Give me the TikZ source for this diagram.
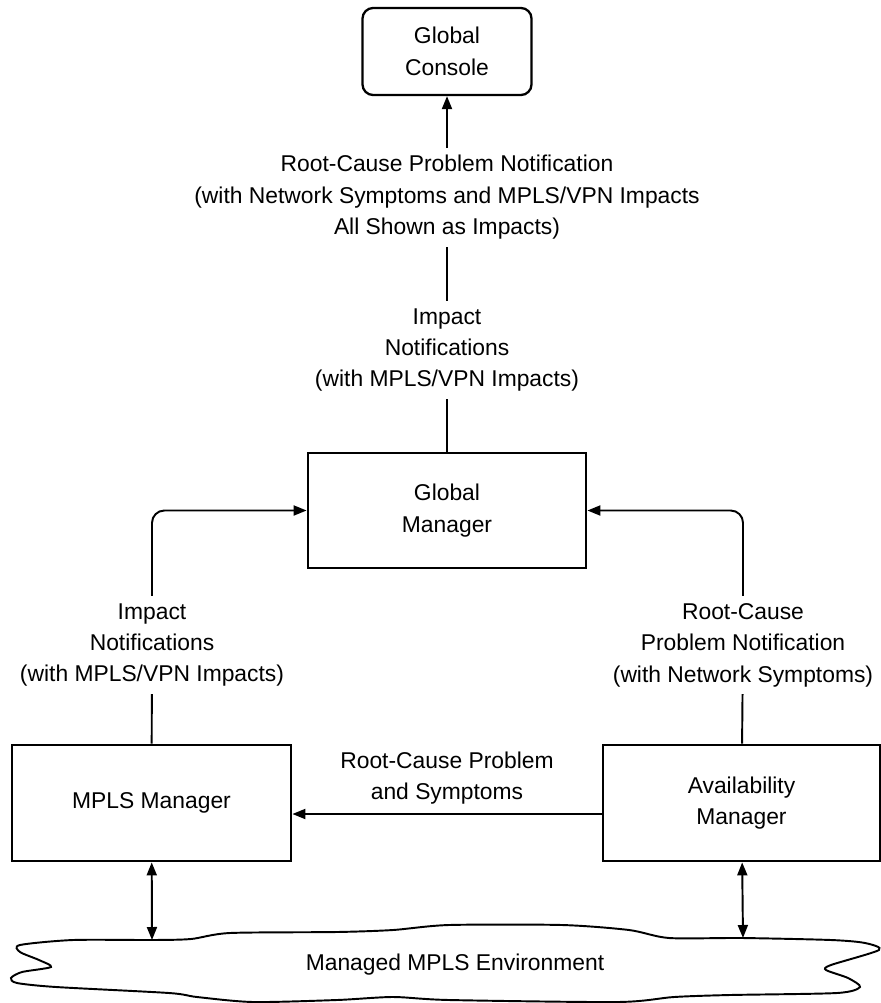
\documentclass[tikz,border=0pt]{standalone}
\usepackage{fontspec}
\setmainfont{Liberation Sans}
\usetikzlibrary{arrows.meta}
\begin{document}
\begin{tikzpicture}[
        font=\fontsize{13}{17.9}\selectfont,
        >={Triangle[length=7.4pt,width=5.7pt]},
        box/.style={draw, line width=1.6pt, align=center},
        lbl/.style={align=center, inner sep=4pt},
        conn/.style={line width=1.1pt}
    ]
        \useasboundingbox (0,0) rectangle (17.62,-20.06);

        \begin{scope}[every node/.style={box}]

            \node[rounded corners=6pt, line width=1.3pt, minimum width=3.38cm, minimum height=1.74cm] (console) at (8.94,-1.03) {Global\\Console};
            \node[minimum width=5.56cm, minimum height=2.30cm] (gm) at (8.94,-10.21) {Global\\Manager};
            \node[minimum width=5.58cm, minimum height=2.32cm] (mpls) at (3.03,-16.06) {MPLS Manager};
            \node[minimum width=5.54cm, minimum height=2.32cm] (avail) at (14.83,-16.06) {Availability\\Manager};

        \end{scope}

        \begin{scope}[every node/.style={lbl}]

            \node (lbltop) at (8.94,-3.95) {Root-Cause Problem Notification\\(with Network Symptoms and MPLS/VPN Impacts\\All Shown as Impacts)};
            \node (lblimp) at (8.94,-7.0) {Impact\\Notifications\\(with MPLS/VPN Impacts)};
            \node (lblleft) at (3.04,-12.9) {Impact\\Notifications\\(with MPLS/VPN Impacts)};
            \node (lblright) at (14.86,-12.9) {Root-Cause\\Problem Notification\\(with Network Symptoms)};
            \node (lblmid) at (8.94,-15.56) {Root-Cause Problem\\and Symptoms};

        \end{scope}

        % managed environment
        \draw[conn] plot[smooth cycle, tension=0.45] coordinates {
            (0.40,-18.90) (1.46,-18.80) (3.04,-18.80) (3.82,-18.78) (4.60,-18.66)
            (6.74,-18.64) (7.86,-18.60) (8.98,-18.50) (11.24,-18.50) (12.58,-18.60)
            (13.38,-18.76) (14.84,-18.76) (16.62,-18.80) (17.30,-18.86) (17.58,-19.00)
            (16.62,-19.30) (16.52,-19.40) (16.96,-19.56) (17.20,-19.74) (16.74,-19.86)
            (14.60,-19.90) (13.48,-19.94) (12.36,-20.04) (8.98,-20.00) (7.86,-19.94)
            (6.74,-20.00) (5.06,-20.04) (3.94,-19.94) (3.38,-19.86) (1.12,-19.74)
            (0.34,-19.66) (0.22,-19.56) (0.44,-19.44) (1.02,-19.34) (0.78,-19.20)
            (0.40,-19.04)};
        \node (env) at (9.1,-19.3) {Managed MPLS Environment};
        \coordinate (envl) at (3.04,-18.80);
        \coordinate (envr) at (14.86,-18.76);

        \draw[conn, ->] (lbltop) -- (console);
        \draw[conn] (lblimp) -- (lbltop);
        \draw[conn] (gm) -- (lblimp);

        \draw[conn] (mpls) -- (lblleft);
        \draw[conn, ->, rounded corners=7pt] (lblleft) |- (gm.west);
        \draw[conn] (avail) -- (lblright);
        \draw[conn, ->, rounded corners=7pt] (lblright) |- (gm.east);

        \draw[conn, ->] ([yshift=-0.22cm]avail.west) -- ([yshift=-0.22cm]mpls.east);

        \draw[conn, <->] (mpls) -- (envl);
        \draw[conn, <->] (avail) -- (envr);
    \end{tikzpicture}
\end{document}
